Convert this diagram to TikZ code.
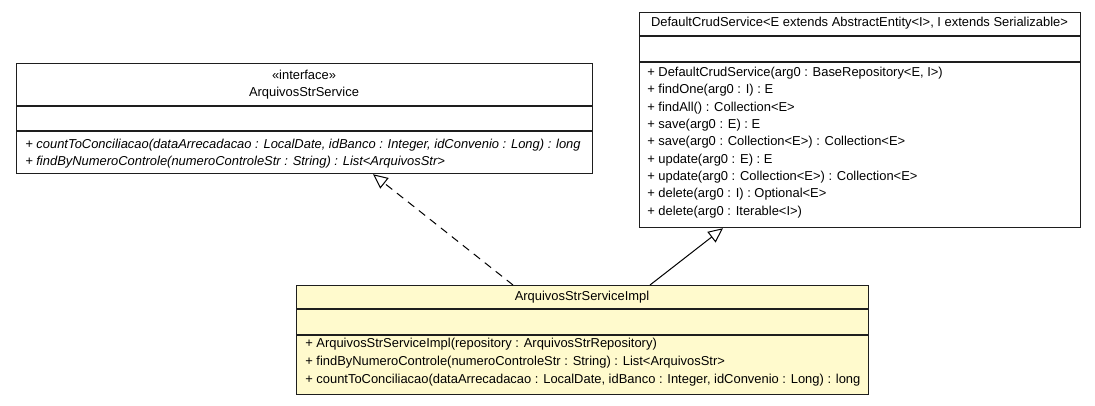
\documentclass[tikz,border=0pt]{standalone}
\usepackage{fontspec}
\setmainfont{Liberation Sans}
\usetikzlibrary{arrows.meta}
\definecolor{implfill}{RGB}{255,250,205}
\definecolor{edge}{RGB}{30,30,30}
\begin{document}
\begin{tikzpicture}[x=0.75pt,y=-0.75pt,
  umlbox/.style={draw=edge, line width=0.9pt, anchor=north west, inner sep=0pt, fill=white},
  sepline/.style={draw=edge, line width=1.4pt},
  txt/.style={font=\fontsize{9.7}{11}\selectfont, inner sep=0pt},
  member/.style={txt, anchor=west},
  abstractmember/.style={member, font=\fontsize{9.7}{11}\selectfont\itshape},
  realize/.style={draw=black, line width=0.75pt, dash pattern=on 6pt off 4.5pt,
    -{Triangle[open, length=11pt, width=10pt, line width=0.75pt]}},
  inherit/.style={draw=black, line width=0.75pt,
    -{Triangle[open, length=11pt, width=10pt, line width=0.75pt]}}
]
\useasboundingbox (0,0) rectangle (1095,405);

% interface ArquivosStrService
\node[umlbox, minimum width=576*0.75pt, minimum height=110*0.75pt] (iface) at (16,63) {};
\draw[sepline] (16,106) -- (592,106);
\draw[sepline] (16,131) -- (592,131);
\node[txt] (ifaceStereo) at (304,75) {«interface»};
\node[txt] (ifaceName) at (304,93) {ArquivosStrService};
\node[abstractmember] (ifaceM1) at (25,145) {+ countToConciliacao(dataArrecadacao : LocalDate, idBanco : Integer, idConvenio : Long) : long};
\node[abstractmember] (ifaceM2) at (25,162) {+ findByNumeroControle(numeroControleStr : String) : List<ArquivosStr>};

% class DefaultCrudService
\node[umlbox, minimum width=441*0.75pt, minimum height=215*0.75pt] (crud) at (639,12) {};
\draw[sepline] (639,36) -- (1080,36);
\draw[sepline] (639,62) -- (1080,62);
\node[txt] (crudName) at (859.5,23) {DefaultCrudService<E extends AbstractEntity<I>, I extends Serializable>};
\node[member] (crudM1) at (647,73.3) {+ DefaultCrudService(arg0 : BaseRepository<E, I>)};
\node[member] (crudM2) at (647,90.6) {+ findOne(arg0 : I) : E};
\node[member] (crudM3) at (647,108) {+ findAll() : Collection<E>};
\node[member] (crudM4) at (647,125.3) {+ save(arg0 : E) : E};
\node[member] (crudM5) at (647,142.6) {+ save(arg0 : Collection<E>) : Collection<E>};
\node[member] (crudM6) at (647,160) {+ update(arg0 : E) : E};
\node[member] (crudM7) at (647,177.3) {+ update(arg0 : Collection<E>) : Collection<E>};
\node[member] (crudM8) at (647,194.6) {+ delete(arg0 : I) : Optional<E>};
\node[member] (crudM9) at (647,212) {+ delete(arg0 : Iterable<I>)};

% class ArquivosStrServiceImpl
\node[umlbox, fill=implfill, minimum width=572*0.75pt, minimum height=109*0.75pt] (impl) at (296,285) {};
\draw[sepline] (296,309) -- (868,309);
\draw[sepline] (296,335) -- (868,335);
\node[txt] (implName) at (582,297) {ArquivosStrServiceImpl};
\node[member] (implM1) at (305,344) {+ ArquivosStrServiceImpl(repository : ArquivosStrRepository)};
\node[member] (implM2) at (305,362) {+ findByNumeroControle(numeroControleStr : String) : List<ArquivosStr>};
\node[member] (implM3) at (305,380) {+ countToConciliacao(dataArrecadacao : LocalDate, idBanco : Integer, idConvenio : Long) : long};

% realization and generalization
\draw[realize] ([xshift=217*0.75pt]impl.north west) -- ([xshift=357*0.75pt]iface.south west);
\draw[inherit] ([xshift=354*0.75pt]impl.north west) -- ([xshift=84*0.75pt]crud.south west);
\end{tikzpicture}
\end{document}
